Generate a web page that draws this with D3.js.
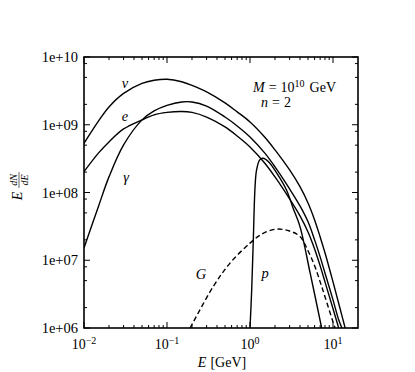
<!DOCTYPE html>
<html><head><meta charset="utf-8">
<script src="https://cdn.jsdelivr.net/npm/d3@7"></script>
<style>body{margin:0;background:#fff}</style>
</head><body>
<svg id="c" width="415" height="372"></svg>
<script>
// ---- data ----
const energyGrid = [0.01,0.015,0.02,0.03,0.05,0.07,0.1,0.15,0.2,0.3,0.5,0.7,1,1.5,2,3,4,5,6,7,8,10,12,14];
const nuValues = [5.33e8,1.14e9,1.83e9,2.9e9,4.07e9,4.53e9,4.69e9,4.31e9,3.8e9,3.05e9,2.1e9,1.55e9,1.1e9,6.6e8,4.25e8,2.15e8,1.22e8,7.0e7,3.94e7,2.21e7,1.29e7,4.8e6,2.06e6,1.0e6];
const gammaE = [0.01,0.015,0.02,0.03,0.05,0.07,0.1,0.15,0.2,0.3,0.5,0.7,1,1.5,2,3,4,5,6,7,8,10,11.7,12.8];
const gammaValues = [1.52e7,6.34e7,1.7e8,5.04e8,1.18e9,1.6e9,1.93e9,2.17e9,2.17e9,1.89e9,1.3e9,9.6e8,6.6e8,3.84e8,2.39e8,1.13e8,6.34e7,3.69e7,2.0e7,1.12e7,6.5e6,2.6e6,1.32e6,1.0e6];
const electronE = [0.01,0.015,0.02,0.03,0.05,0.07,0.1,0.15,0.2,0.3,0.5,0.7,1,1.5,2,3,4,5,6,7,8,10,11.7];
const electronValues = [2.03e8,3.84e8,5.58e8,8.67e8,1.18e9,1.4e9,1.52e9,1.57e9,1.52e9,1.3e9,9.28e8,6.84e8,4.71e8,2.73e8,1.7e8,8.05e7,4.52e7,2.62e7,1.47e7,8.27e6,4.8e6,1.92e6,1.0e6];
const protonE = [1.0,1.048,1.096,1.15,1.2,1.31,1.44,1.66,2.1,2.75,3.3,4.0,5.3,7.3];
const protonValues = [1.0e6,3.66e6,2.0e7,1.21e8,2.15e8,3.03e8,3.2e8,2.86e8,1.93e8,1.09e8,5.9e7,3.14e7,6.5e6,1.0e6];
const gE = [0.19,0.361,0.574,1.0,1.44,2.1,3.0,4.0,5.0,6.0,7.0,8.0,10.0,10.6];
const gValues = [1.0e6,4.1e6,9.06e6,1.79e7,2.5e7,2.88e7,2.7e7,2.24e7,1.38e7,8.3e6,4.8e6,2.9e6,1.23e6,1.0e6];
const xTickExps = [-2,-1,0,1];
const yTickLabels = ["1e+06","1e+07","1e+08","1e+09","1e+10"];
const yTickValues = [1e6,1e7,1e8,1e9,1e10];

const W=415,H=372, L=84,R=358,T=57,B=328;
const FONT="'Liberation Serif','DejaVu Serif',serif";
const svg=d3.select("#c");
const x=d3.scaleLog().domain([0.01,20]).range([L,R]);
const y=d3.scaleLog().domain([1e6,1e10]).range([B,T]);

svg.append("defs").append("clipPath").attr("id","clip")
  .append("rect").attr("x",L).attr("y",T).attr("width",R-L).attr("height",B-T);

const series=[
  {e:energyGrid,v:nuValues,dash:null},
  {e:gammaE,v:gammaValues,dash:null},
  {e:electronE,v:electronValues,dash:null},
  {e:protonE,v:protonValues,dash:null},
  {e:gE,v:gValues,dash:"5,3"}
];
const line=d3.line().x(d=>x(d[0])).y(d=>y(d[1])).curve(d3.curveCatmullRom.alpha(0.5));
const g=svg.append("g").attr("clip-path","url(#clip)");
series.forEach(s=>{
  g.append("path").attr("d",line(s.e.map((e,i)=>[e,s.v[i]])))
   .attr("fill","none").attr("stroke","#000").attr("stroke-width",1.4)
   .attr("stroke-dasharray",s.dash);
});

// ticks
const tk=svg.append("g").attr("stroke","#000").attr("stroke-width",1);
const xMajor=xTickExps.map(e=>Math.pow(10,e));
const xMinor=[];
for(let e=-2;e<=1;e++)for(let k=2;k<=9;k++){const v=k*Math.pow(10,e); if(v<20) xMinor.push(v);}
xMajor.forEach(v=>{const p=x(v);
  tk.append("line").attr("x1",p).attr("x2",p).attr("y1",B).attr("y2",B-6);
  tk.append("line").attr("x1",p).attr("x2",p).attr("y1",T).attr("y2",T+6);});
xMinor.forEach(v=>{const p=x(v);
  tk.append("line").attr("x1",p).attr("x2",p).attr("y1",B).attr("y2",B-3);
  tk.append("line").attr("x1",p).attr("x2",p).attr("y1",T).attr("y2",T+3);});
const yMinor=[];
for(let e=6;e<10;e++)[2,5,8].forEach(k=>yMinor.push(k*Math.pow(10,e)));
yTickValues.forEach(v=>{const p=y(v);
  tk.append("line").attr("x1",L).attr("x2",L+6).attr("y1",p).attr("y2",p);
  tk.append("line").attr("x1",R).attr("x2",R-6).attr("y1",p).attr("y2",p);});
yMinor.forEach(v=>{const p=y(v);
  tk.append("line").attr("x1",L).attr("x2",L+3).attr("y1",p).attr("y2",p);
  tk.append("line").attr("x1",R).attr("x2",R-3).attr("y1",p).attr("y2",p);});

svg.append("rect").attr("x",L).attr("y",T).attr("width",R-L).attr("height",B-T)
  .attr("fill","none").attr("stroke","#000").attr("stroke-width",1.6);

// tick labels
yTickValues.forEach((v,i)=>{
  svg.append("text").attr("x",L-6).attr("y",y(v)+5).attr("text-anchor","end")
    .attr("font-family",FONT).attr("font-size",14.5).text(yTickLabels[i]);
});
xTickExps.forEach(e=>{
  const t=svg.append("text").attr("x",x(Math.pow(10,e))).attr("y",349).attr("text-anchor","middle")
    .attr("font-family",FONT).attr("font-size",14);
  t.append("tspan").text("10");
  t.append("tspan").attr("dy",-5.5).attr("font-size",10).text(e<0?"\u2212"+(-e):String(e));
});

// axis titles
const xt=svg.append("text").attr("x",222).attr("y",367).attr("text-anchor","middle")
  .attr("font-family",FONT).attr("font-size",14);
xt.append("tspan").attr("font-style","italic").text("E");
xt.append("tspan").attr("dx",4).text("[GeV]");

const yt=svg.append("g").attr("transform","translate(22,186) rotate(-90)");
yt.append("text").attr("x",-10).attr("y",0).attr("font-family",FONT).attr("font-size",14)
  .attr("font-style","italic").attr("text-anchor","middle").text("E");
yt.append("text").attr("x",6).attr("y",-5).attr("font-family",FONT).attr("font-size",10)
  .attr("font-style","italic").attr("text-anchor","middle").text("dN");
yt.append("line").attr("x1",-2).attr("x2",14).attr("y1",-3).attr("y2",-3).attr("stroke","#000").attr("stroke-width",0.6);
yt.append("text").attr("x",6).attr("y",6).attr("font-family",FONT).attr("font-size",10)
  .attr("font-style","italic").attr("text-anchor","middle").text("dE");

// curve labels
const lab=(tx,px,py)=>svg.append("text").attr("x",px).attr("y",py).attr("text-anchor","middle")
  .attr("font-family",FONT).attr("font-size",14.5).attr("font-style","italic").text(tx);
lab("\u03BD",125,88);
lab("e",125,121);
lab("\u03B3",126,182);
lab("G",201,279);
lab("p",265,278);

// annotation
const a1=svg.append("text").attr("x",253).attr("y",92).attr("font-family",FONT).attr("font-size",14);
a1.append("tspan").attr("font-style","italic").text("M");
a1.append("tspan").attr("dx",4).text("=");
a1.append("tspan").attr("dx",4).text("10");
a1.append("tspan").attr("dy",-5.5).attr("font-size",10).text("10");
a1.append("tspan").attr("dy",5.5).attr("dx",5).text("GeV");
const a2=svg.append("text").attr("x",261).attr("y",107).attr("font-family",FONT).attr("font-size",14);
a2.append("tspan").attr("font-style","italic").text("n");
a2.append("tspan").attr("dx",4).text("=");
a2.append("tspan").attr("dx",4).text("2");
</script>
</body></html>
